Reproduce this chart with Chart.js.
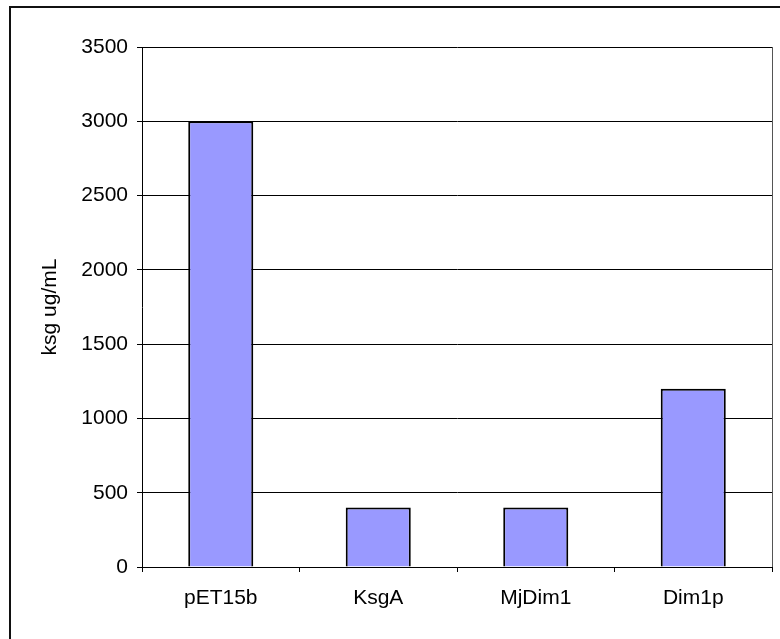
<!DOCTYPE html>
<html lang="en">
<head>
  <meta charset="UTF-8">
  <title>ksg ug/mL</title>
  <script src="https://cdn.jsdelivr.net/npm/chart.js"></script>
  <style>
    html, body { margin: 0; padding: 0; background: #fff; overflow: hidden; }
    #frame {
      position: absolute; left: 9px; top: 6px;
      width: 900px; height: 900px;
      border: 2px solid #111;
    }
    #wrap { position: absolute; left: 0; top: 0; width: 780px; height: 639px; }
  </style>
</head>
<body>
  <div id="frame"></div>
  <div id="wrap">
    <canvas id="ksgChart" width="780" height="639"></canvas>
  </div>

  <script>
    // values
    const strains = ['pET15b', 'KsgA', 'MjDim1', 'Dim1p'];
    const ksgValues = [3000, 400, 400, 1200];
    const yTicks = [0, 500, 1000, 1500, 2000, 2500, 3000, 3500];

    const font = { family: '"Liberation Sans", Arial, sans-serif', size: 21 };

    // right edge of the plot area
    const plotBorder = {
      id: 'plotBorder',
      afterDraw(chart) {
        const { ctx, chartArea } = chart;
        ctx.save();
        ctx.strokeStyle = '#555';
        ctx.lineWidth = 1;
        ctx.beginPath();
        ctx.moveTo(Math.round(chartArea.right) + 0.5, chartArea.top);
        ctx.lineTo(Math.round(chartArea.right) + 0.5, chartArea.bottom);
        ctx.stroke();
        ctx.restore();
      }
    };

    new Chart(document.getElementById('ksgChart'), {
      type: 'bar',
      data: {
        labels: strains,
        datasets: [{
          label: 'ksg ug/mL',
          data: ksgValues,
          backgroundColor: '#9999ff',
          borderColor: '#000',
          borderWidth: 2,
          categoryPercentage: 1,
          barPercentage: 0.413
        }]
      },
      options: {
        responsive: false,
        animation: false,
        layout: { padding: { left: 38, top: 47, right: 8, bottom: 0 } },
        plugins: {
          legend: { display: false },
          tooltip: { enabled: false }
        },
        scales: {
          y: {
            min: 0,
            max: 3500,
            afterBuildTicks(scale) { scale.ticks = yTicks.map(v => ({ value: v })); },
            afterFit(scale) { scale.width = 104; },
            border: { color: '#000', width: 1 },
            grid: { color: '#000', lineWidth: 1, tickLength: 5 },
            ticks: { color: '#000', font, padding: 9, callback: v => String(v) },
            title: {
              display: true,
              text: 'ksg ug/mL',
              color: '#000',
              font,
              padding: 0
            }
          },
          x: {
            afterFit(scale) { scale.height = 72; },
            border: { color: '#000', width: 1 },
            grid: { offset: true, drawOnChartArea: false, color: '#000', tickLength: 5 },
            ticks: { color: '#000', font, padding: 14, maxRotation: 0 }
          }
        }
      },
      plugins: [plotBorder]
    });
  </script>
</body>
</html>
